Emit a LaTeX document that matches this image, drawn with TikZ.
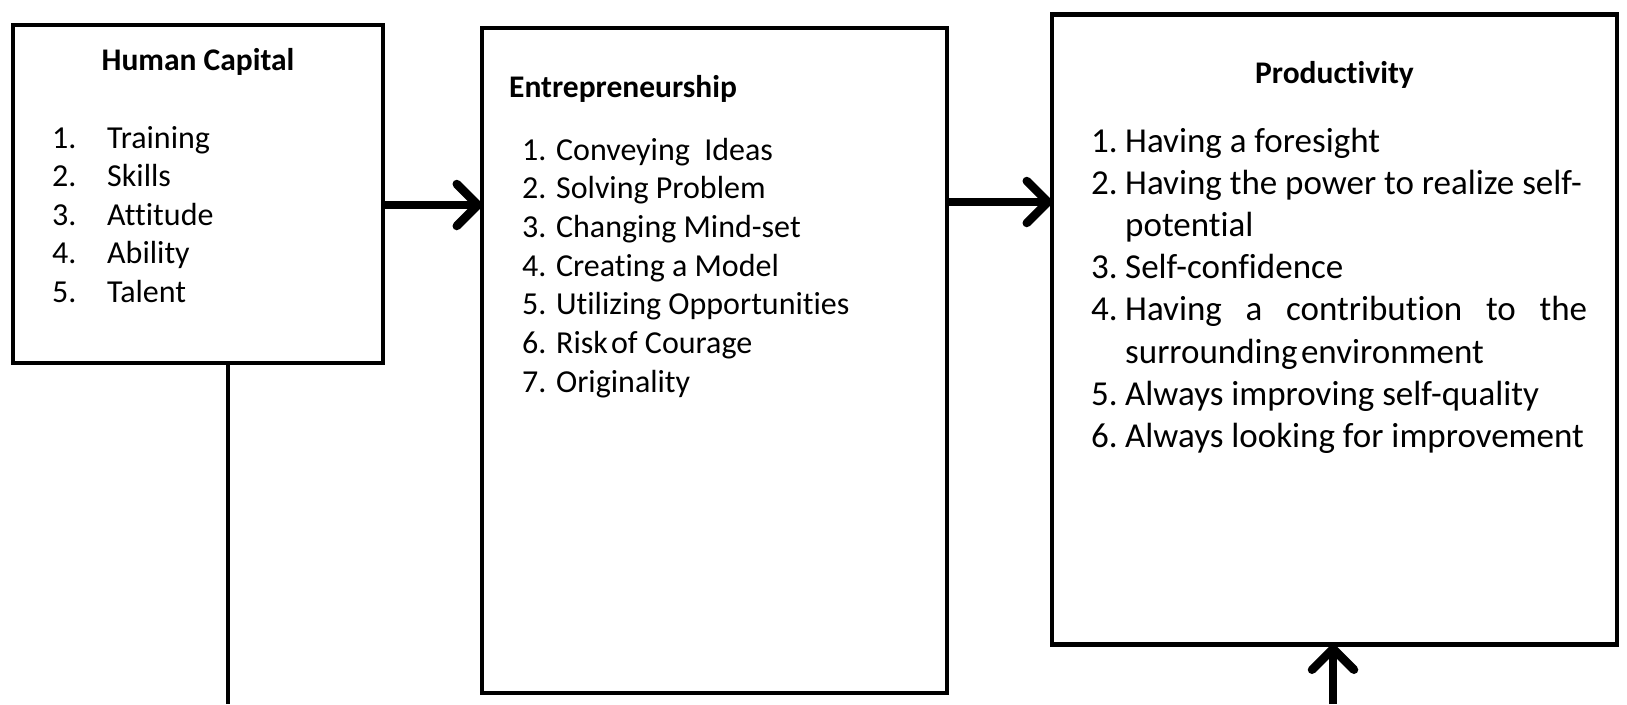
\documentclass[tikz,border=0pt]{standalone}
\usepackage{fontspec}
\setmainfont{Carlito}[Ligatures=NoCommon]
\usepackage{tikz}
\usetikzlibrary{arrows.meta}
\usetikzlibrary{calc}
\usetikzlibrary{positioning}
\tikzset{>=stealth}
\tikzset{
  box/.style={draw, line width=4.5pt, inner sep=0pt, outer sep=0pt},
  boxtitle/.style={font=\fontsize{31.5}{37}\selectfont\bfseries, inner sep=0pt, anchor=base},
  lst/.style={font=\fontsize{32}{38}\selectfont, inner sep=0pt, anchor=base west},
  lstbig/.style={font=\fontsize{35}{42}\selectfont, inner sep=0pt, anchor=base west},
  flow/.style={line width=8.5pt, -{Straight Barb[length=21pt,width=42pt,line cap=round,line join=round]}},
}

\begin{document}
\begin{tikzpicture}[x=1pt,y=-1pt]
                \useasboundingbox (0,0) rectangle (1627,704);
                % the three boxes
                \node[box, minimum width=370pt, minimum height=338pt] (hc) at (198,194) {};
                \node[box, minimum width=465pt, minimum height=665pt] (ent) at (714.5,360.5) {};
                \node[box, minimum width=565pt, minimum height=630pt] (prod) at (1334.5,329.5) {};
                % human capital
                \node[boxtitle] (hct) at (198,70) {Human Capital};
                \foreach \txt [count=\i] in {Training, Skills, Attitude, Ability, Talent}
                  {
                   \node[lst] (hcn-\i) at (52,148+38.5*\i-38.5) {\i.};
                   \node[lst] (hc-\i) at (107,148+38.5*\i-38.5) {\txt};
                  }
                % entrepreneurship
                \node[boxtitle, anchor=base west] (entt) at (509,97) {Entrepreneurship};
                \foreach \txt [count=\i] in {Conveying\ \ Ideas, Solving Problem, Changing Mind-set, Creating a Model, Utilizing Opportunities, Risk\hspace{0.1em}of Courage, Originality}
                  \node[lst] (ent-\i) at (522,160+38.7*\i-38.7) {\i. \txt};
                % productivity
                \node[boxtitle] (prodt) at (1334.5,83) {Productivity};
                \foreach \num/\txt [count=\k from 0] in {1./Having a foresight, 2./Having the power to realize self-, /potential, 3./Self-confidence, 4./\makebox[462pt][s]{Having a contribution to the}, /surrounding\hspace{0.1em}environment, 5./Always improving self-quality, 6./Always looking for improvement}
                  {
                   \node[lstbig] (prodn-\k) at (1091,152+42.2*\k) {\num};
                   \node[lstbig] (prod-\k) at (1125,152+42.2*\k) {\txt};
                  }
                % connectors
                \coordinate (hcfoot) at (228,704);
                \coordinate (prodfoot) at (1333,704);
                \draw[flow] ([yshift=-11pt]hc.east) -- ([yshift=-11pt]hc.east -| ent.west);
                \draw[flow] (ent.east |- 0,202) -- (prod.west |- 0,202);
                \draw[line width=4.5pt] (hcfoot |- hc.south) -- (hcfoot);
                \draw[flow] (prodfoot) -- (prodfoot |- prod.south);
            \end{tikzpicture}
\end{document}
